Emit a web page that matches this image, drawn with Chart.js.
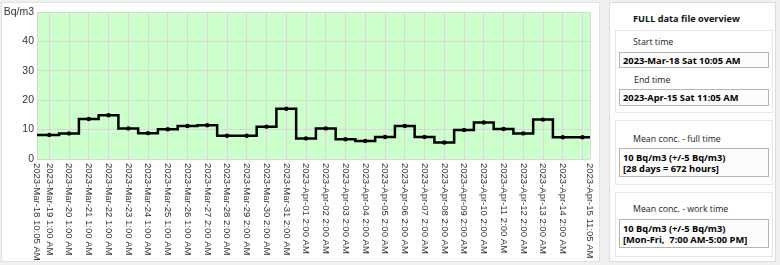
<!DOCTYPE html>
<html>
<head>
<meta charset="utf-8">
<script src="https://cdn.jsdelivr.net/npm/chart.js@4.4.1/dist/chart.umd.min.js"></script>
<style>
html,body{margin:0;padding:0;width:780px;height:265px;overflow:hidden;background:#f0f0f0;}
body{position:relative;font-family:"Open Sans","Noto Sans",sans-serif;color:#111;}
#chartPanel{position:absolute;left:1px;top:2px;width:599px;height:260px;background:#fff;border:1px solid #e2e2e2;box-sizing:border-box;}
#c{position:absolute;left:0;top:0;}
#side{position:absolute;left:609px;top:2px;width:167px;height:260px;background:#fff;border:1px solid #dcdcdc;box-sizing:border-box;}
.abs{position:absolute;white-space:nowrap;}
.grp{position:absolute;left:615px;width:158px;border:1px solid #e6e6e6;box-sizing:border-box;background:#fff;}
.ttl{font-weight:bold;font-size:9.2px;line-height:12px;}
.lbl{font-size:8.8px;line-height:12px;color:#222;}
.tb{position:absolute;left:619px;width:150px;border:1px solid #b4b4b4;box-sizing:border-box;background:#fcfcfc;font-weight:bold;font-size:9.3px;line-height:11.6px;padding-left:3px;white-space:nowrap;color:#000;}
</style>
</head>
<body>
<div id="chartPanel"></div>
<canvas id="c" width="600" height="262"></canvas>

<div id="side"></div>
<div class="abs ttl" style="left:633px;top:13px;">FULL data file overview</div>

<div class="grp" style="top:30px;height:83px;"></div>
<div class="abs lbl" style="left:633px;top:36px;">Start time</div>
<div class="tb" style="top:52px;height:16px;padding-top:1.5px;">2023-Mar-18 Sat 10:05 AM</div>
<div class="abs lbl" style="left:634px;top:74px;">End time</div>
<div class="tb" style="top:89px;height:17px;padding-top:2px;">2023-Apr-15 Sat 11:05 AM</div>

<div class="grp" style="top:120px;height:65px;"></div>
<div class="abs lbl" style="left:633px;top:133px;">Mean conc. - full time</div>
<div class="tb" style="top:148px;height:29px;padding-top:2.5px;">10 Bq/m3 (+/-5 Bq/m3)<br>[28 days = 672 hours]</div>

<div class="grp" style="top:192px;height:65px;"></div>
<div class="abs lbl" style="left:633px;top:203px;">Mean conc. - work time</div>
<div class="tb" style="top:219px;height:29px;padding-top:2.5px;">10 Bq/m3 (+/-5 Bq/m3)<br>[Mon-Fri,&nbsp; 7:00 AM-5:00 PM]</div>

<script>
// ---- data (times in UTC) ----
const startTime = '2023-03-18T09:05:00Z';   // 2023-Mar-18 10:05 AM local
const endTime   = '2023-04-15T09:05:00Z';   // 2023-Apr-15 11:05 AM local

const dayTimes = [
  '2023-03-19T00:00:00Z','2023-03-20T00:00:00Z','2023-03-21T00:00:00Z','2023-03-22T00:00:00Z',
  '2023-03-23T00:00:00Z','2023-03-24T00:00:00Z','2023-03-25T00:00:00Z','2023-03-26T00:00:00Z',
  '2023-03-27T00:00:00Z','2023-03-28T00:00:00Z','2023-03-29T00:00:00Z','2023-03-30T00:00:00Z',
  '2023-03-31T00:00:00Z','2023-04-01T00:00:00Z','2023-04-02T00:00:00Z','2023-04-03T00:00:00Z',
  '2023-04-04T00:00:00Z','2023-04-05T00:00:00Z','2023-04-06T00:00:00Z','2023-04-07T00:00:00Z',
  '2023-04-08T00:00:00Z','2023-04-09T00:00:00Z','2023-04-10T00:00:00Z','2023-04-11T00:00:00Z',
  '2023-04-12T00:00:00Z','2023-04-13T00:00:00Z','2023-04-14T00:00:00Z','2023-04-15T00:00:00Z'
];

const dayValues = [
  8.2, 8.7, 13.6, 14.9, 10.4, 8.8, 10.1, 11.2, 11.5, 7.9, 7.9, 11.0, 17.1,
  7.0, 10.4, 6.7, 6.1, 7.5, 11.2, 7.5, 5.6, 9.9, 12.4, 10.2, 8.7, 13.4, 7.4, 7.4
];

const tickLabels = [
  '2023-Mar-18 10:05 AM',
  '2023-Mar-19 1:00 AM','2023-Mar-20 1:00 AM','2023-Mar-21 1:00 AM','2023-Mar-22 1:00 AM',
  '2023-Mar-23 1:00 AM','2023-Mar-24 1:00 AM','2023-Mar-25 1:00 AM','2023-Mar-26 1:00 AM',
  '2023-Mar-27 2:00 AM','2023-Mar-28 2:00 AM','2023-Mar-29 2:00 AM','2023-Mar-30 2:00 AM',
  '2023-Mar-31 2:00 AM','2023-Apr-01 2:00 AM','2023-Apr-02 2:00 AM','2023-Apr-03 2:00 AM',
  '2023-Apr-04 2:00 AM','2023-Apr-05 2:00 AM','2023-Apr-06 2:00 AM','2023-Apr-07 2:00 AM',
  '2023-Apr-08 2:00 AM','2023-Apr-09 2:00 AM','2023-Apr-10 2:00 AM','2023-Apr-11 2:00 AM',
  '2023-Apr-12 2:00 AM','2023-Apr-13 2:00 AM','2023-Apr-14 2:00 AM','',
  '2023-Apr-15 11:05 AM'
];

const yTicks = [0, 10, 20, 30, 40, 50];
const yUnit = 'Bq/m3';

// ---- helpers ----
const hrs = t => (Date.parse(t) - Date.parse(startTime)) / 3600000;
const tickTimes = [startTime, ...dayTimes, endTime];
const points = [
  {x: hrs(startTime), y: dayValues[0]},
  ...dayTimes.map((t, i) => ({x: hrs(t), y: dayValues[i]})),
  {x: hrs(endTime), y: dayValues[dayValues.length - 1]}
];

const plotBg = {
  id: 'plotBg',
  beforeDraw(chart) {
    const {ctx, chartArea: a} = chart;
    ctx.save();
    ctx.fillStyle = '#ccffcc';
    ctx.fillRect(a.left, a.top, a.right - a.left, a.bottom - a.top);
    ctx.restore();
  }
};

const xLabels = {
  id: 'xLabels',
  afterDraw(chart) {
    const {ctx} = chart;
    const xs = chart.scales.x;
    ctx.save();
    ctx.font = '9.5px "Liberation Sans", Arial, sans-serif';
    ctx.fillStyle = '#333';
    ctx.textAlign = 'left';
    ctx.textBaseline = 'middle';
    tickTimes.forEach((t, i) => {
      const lab = tickLabels[i];
      if (!lab) return;
      const px = xs.getPixelForValue(hrs(t));
      ctx.save();
      ctx.translate(px, xs.top + 4);
      ctx.rotate(Math.PI / 2);
      ctx.fillText(lab, 0, 0);
      ctx.restore();
    });
    ctx.restore();
  }
};

new Chart(document.getElementById('c'), {
  type: 'line',
  data: {
    datasets: [{
      data: points,
      borderColor: '#000',
      borderWidth: 2.5,
      stepped: 'middle',
      fill: false,
      pointRadius: c => (c.dataIndex === 0 || c.dataIndex === points.length - 1) ? 0 : 2.2,
      pointBackgroundColor: '#000',
      pointBorderColor: '#000',
      pointBorderWidth: 0
    }]
  },
  options: {
    responsive: false,
    animation: false,
    devicePixelRatio: 1,
    layout: {padding: {top: 12, right: 10, left: 0, bottom: 0}},
    plugins: {legend: {display: false}, tooltip: {enabled: false}},
    scales: {
      x: {
        type: 'linear',
        min: hrs(startTime),
        max: hrs(endTime),
        afterBuildTicks: s => { s.ticks = tickTimes.map(t => ({value: hrs(t)})); },
        afterFit: s => { s.height = 103; },
        ticks: {display: false},
        grid: {color: '#d8d8d8', drawTicks: false, lineWidth: 1},
        border: {display: false}
      },
      y: {
        min: 0,
        max: 50,
        afterBuildTicks: s => { s.ticks = yTicks.map(v => ({value: v})); },
        afterFit: s => { s.width = 37; },
        ticks: {
          callback: v => v === 50 ? yUnit : String(v),
          color: '#333',
          font: {family: '"Liberation Sans", Arial, sans-serif', size: 10.5},
          padding: 3
        },
        grid: {color: '#d8d8d8', drawTicks: false, lineWidth: 1},
        border: {display: false}
      }
    }
  },
  plugins: [plotBg, xLabels]
});
</script>
</body>
</html>
